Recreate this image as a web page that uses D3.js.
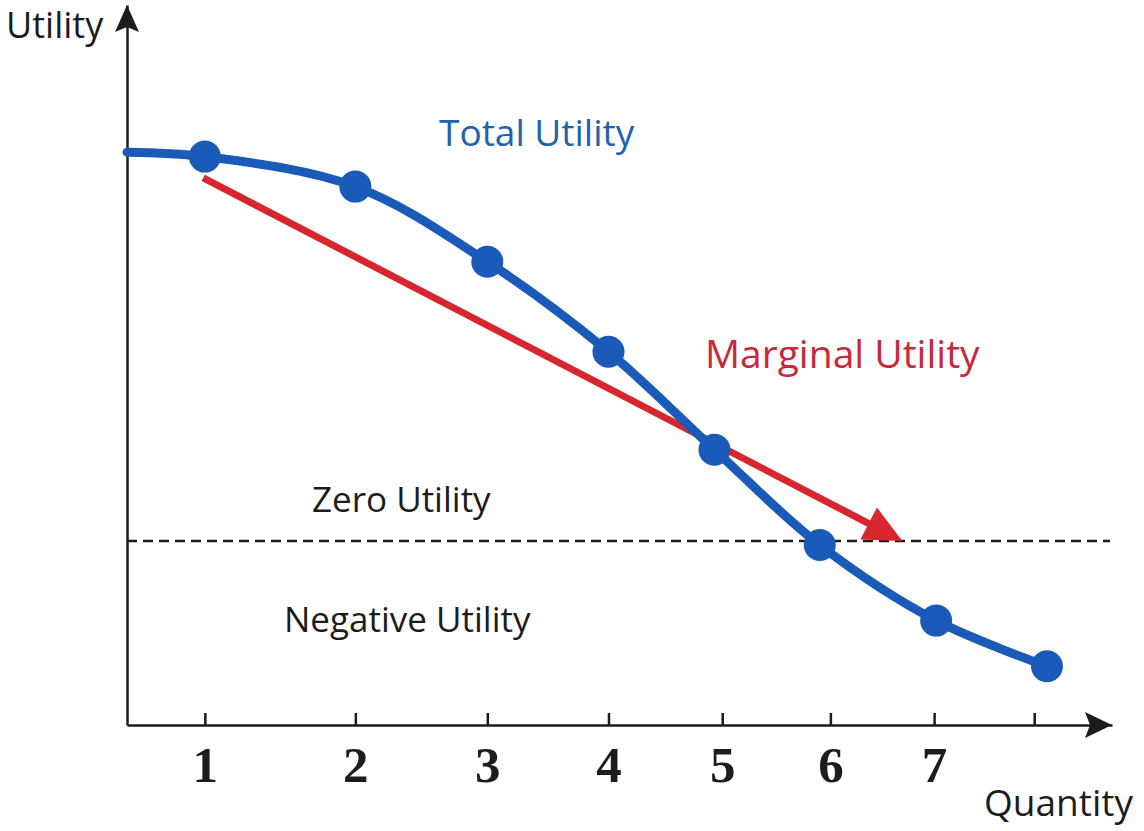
<!DOCTYPE html>
<html>
<head>
<meta charset="utf-8">
<script src="https://cdn.jsdelivr.net/npm/d3@7"></script>
<style>
  body { margin: 0; background: #fff; }
  svg { display: block; }
  text { font-family: "Open Sans", "Noto Sans", sans-serif; }
</style>
</head>
<body>
<svg></svg>
<script>
// data
var quantity = [1, 2, 3, 4, 4.93, 5.9, 7.02, 8.13];
var totalUtility = [9.61, 8.86, 6.98, 4.73, 2.28, -0.1, -1.99, -3.13];
var curveStart = [0.56, 9.72];          // where the TU curve meets the y axis
var marginalQty = [0.99, 6.69];
var marginalUtility = [9.08, 0];
var tickValues = [1, 2, 3, 4, 5, 6, 7, 8];
var tickLabels = ["1", "2", "3", "4", "5", "6", "7", ""];
var zeroLevel = 0;

var svgWidth = 1144, svgHeight = 831;
var x0 = 127, x1 = 1112, y0 = 725, y1 = 5;
var blue = "#1a5ab8", red = "#d7262d", ink = "#1c1c1c";

var svg = d3.select("svg")
    .attr("width", svgWidth)
    .attr("height", svgHeight);

// scales (the quantity axis is drawn with shrinking spacing)
var xScale = d3.scalePow().exponent(0.75)
    .domain([0.56, 8.8])
    .range([x0, x1]);

var yScale = d3.scaleLinear()
    .domain([-4.6, 13.4])
    .range([y0, y1]);

// zero utility line
svg.append("line")
    .attr("x1", x0)
    .attr("x2", 1110)
    .attr("y1", yScale(zeroLevel))
    .attr("y2", yScale(zeroLevel))
    .attr("stroke", ink)
    .attr("stroke-width", 2.6)
    .attr("stroke-dasharray", "10,6");

// axes
var x_axis = d3.axisBottom(xScale)
    .tickValues(tickValues)
    .tickFormat(function(d, i) { return tickLabels[i]; })
    .tickSizeInner(-12)
    .tickSizeOuter(0)
    .tickPadding(21);

var gx = svg.append("g")
    .attr("transform", "translate(0," + y0 + ")")
    .call(x_axis);
gx.select(".domain").attr("stroke", ink).attr("stroke-width", 2.5);
gx.selectAll(".tick line").attr("stroke", ink).attr("stroke-width", 2.5);
gx.selectAll(".tick text")
    .attr("fill", ink)
    .style("font-family", "'Liberation Serif', 'DejaVu Serif', serif")
    .style("font-weight", "bold")
    .style("font-size", "51px");

var y_axis = d3.axisLeft(yScale).tickValues([]).tickSizeOuter(0);
var gy = svg.append("g")
    .attr("transform", "translate(" + x0 + ",0)")
    .call(y_axis);
gy.select(".domain").attr("stroke", ink).attr("stroke-width", 2.5);

// arrow heads on the axes
svg.append("path")
    .attr("d", "M" + x0 + "," + y1 + " L" + (x0 + 12) + "," + (y1 + 27) +
               " L" + x0 + "," + (y1 + 22) + " L" + (x0 - 12) + "," + (y1 + 27) + " Z")
    .attr("fill", ink);
svg.append("path")
    .attr("d", "M" + x1 + "," + y0 + " L" + (x1 - 27) + "," + (y0 + 13) +
               " L" + (x1 - 22) + "," + y0 + " L" + (x1 - 27) + "," + (y0 - 13) + " Z")
    .attr("fill", ink);

// marginal utility arrow
var mx1 = xScale(marginalQty[0]), my1 = yScale(marginalUtility[0]);
var mx2 = xScale(marginalQty[1]), my2 = yScale(marginalUtility[1]);
var ang = Math.atan2(my2 - my1, mx2 - mx1);
var headLen = 38, headHalf = 18;
var bx = mx2 - headLen * Math.cos(ang), by = my2 - headLen * Math.sin(ang);

svg.append("line")
    .attr("x1", mx1).attr("y1", my1)
    .attr("x2", bx + 4 * Math.cos(ang)).attr("y2", by + 4 * Math.sin(ang))
    .attr("stroke", red)
    .attr("stroke-width", 7);
svg.append("path")
    .attr("d", "M" + mx2 + "," + my2 +
               " L" + (bx + headHalf * Math.sin(ang)) + "," + (by - headHalf * Math.cos(ang)) +
               " L" + (bx - headHalf * Math.sin(ang)) + "," + (by + headHalf * Math.cos(ang)) + " Z")
    .attr("fill", red);

// total utility curve
var curvePts = [curveStart].concat(quantity.map(function(q, i) { return [q, totalUtility[i]]; }));
var line = d3.line()
    .x(function(d) { return xScale(d[0]); })
    .y(function(d) { return yScale(d[1]); })
    .curve(d3.curveCatmullRom.alpha(0.5));

svg.append("path")
    .datum(curvePts)
    .attr("d", line)
    .attr("fill", "none")
    .attr("stroke", blue)
    .attr("stroke-width", 9)
    .attr("stroke-linecap", "round");

svg.selectAll("circle.dot")
    .data(quantity)
    .enter()
    .append("circle")
    .attr("class", "dot")
    .attr("cx", function(d) { return xScale(d); })
    .attr("cy", function(d, i) { return yScale(totalUtility[i]); })
    .attr("r", 16)
    .attr("fill", blue);

// labels
function label(txt, x, y, size, color) {
    svg.append("text")
        .text(txt)
        .attr("x", x)
        .attr("y", y)
        .attr("fill", color)
        .style("font-size", size + "px");
}
label("Utility", 6, 38, 36, ink);
label("Quantity", 984, 816, 37, ink);
label("Total Utility", 439, 146, 37, "#2062b0");
label("Marginal Utility", 705, 368, 39, "#c8283a");
label("Zero Utility", 312, 512, 35, ink);
label("Negative Utility", 284, 632, 35, ink);
</script>
</body>
</html>
